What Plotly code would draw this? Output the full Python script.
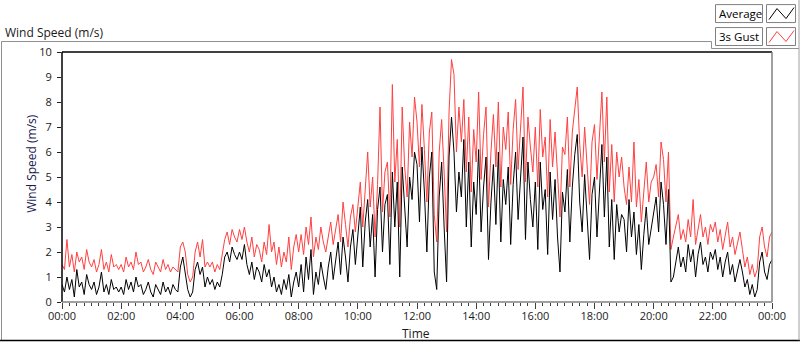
import plotly.graph_objects as go
import pandas as pd

# ---- data: 5-minute samples, 00:00 .. 24:00 (one row per hour) ----
avg_speed = [
    0.7, 0.4, 1.0, 0.5, 0.9, 0.2, 1.3, 0.6, 0.8, 0.3, 1.1, 0.7,
    0.5, 0.8, 0.3, 0.6, 1.2, 0.4, 0.7, 0.3, 0.9, 0.5, 0.6, 0.4,
    0.6, 0.3, 0.9, 0.5, 0.8, 0.4, 1.0, 0.6, 0.7, 0.3, 0.5, 0.8,
    0.4, 0.2, 0.7, 0.5, 0.3, 0.8, 0.4, 0.6, 0.3, 0.7, 0.5, 0.4,
    1.4, 1.8, 1.2, 0.5, 0.2, 0.4, 1.3, 1.6, 1.1, 1.4, 0.6, 1.0,
    0.7, 0.9, 0.5, 0.8, 0.6, 1.1, 1.8, 2.0, 1.6, 2.2, 1.9, 1.7,
    2.0, 1.7, 2.3, 1.5, 1.1, 1.6, 0.9, 1.4, 1.2, 0.8, 1.5, 1.0,
    1.3, 0.6, 1.0, 0.4, 0.7, 0.3, 0.9, 0.5, 1.1, 0.2, 0.8, 1.2,
    0.6, 1.5, 0.4, 1.8, 0.9, 2.1, 0.3, 1.2, 0.7, 1.6, 1.0, 0.5,
    1.4, 2.0, 0.9, 1.6, 2.4, 1.1, 2.6, 1.8, 0.8, 2.2, 2.9, 1.5,
    2.5, 3.8, 1.4, 3.2, 4.1, 2.2, 3.5, 1.0, 3.7, 4.6, 2.0, 3.9,
    4.3, 1.5, 5.2, 3.0, 4.8, 1.0, 5.4, 3.6, 2.2, 5.0, 4.1, 6.0,
    5.5, 3.2, 6.2, 4.4, 2.0, 5.0, 6.0, 1.2, 0.5, 4.2, 5.6, 3.0,
    0.8, 5.8, 7.4, 6.0, 3.6, 5.2, 4.2, 6.5, 3.0, 5.6, 2.2, 4.8,
    3.5, 6.1, 2.8, 4.6, 5.8, 1.7, 4.0, 5.5, 3.1, 6.0, 2.4, 4.9,
    3.9, 5.4, 2.3, 4.7, 6.0, 3.3, 5.1, 6.6, 2.5, 5.6, 4.1, 3.0,
    4.8, 2.1, 5.6, 3.7, 4.5, 1.9, 5.2, 3.3, 4.9, 2.6, 1.2, 4.4,
    3.6, 5.3, 2.4, 4.6, 5.9, 6.7, 4.0, 2.8, 5.1, 3.5, 1.7, 4.3,
    5.0, 2.6, 4.5, 6.3, 3.4, 5.8, 2.2, 4.1, 1.7, 3.9, 2.8, 3.5,
    3.3, 2.0, 4.1, 2.6, 3.6, 1.9, 3.1, 1.3, 2.7, 3.8, 2.3, 3.0,
    3.5, 4.2, 2.8, 4.8, 3.9, 2.3, 4.5, 0.8, 1.0, 1.6, 2.2, 1.4,
    1.8, 1.2, 2.3, 1.6, 2.1, 1.0, 1.9, 2.4, 1.5, 1.8, 1.2, 2.0,
    1.7, 2.1, 1.3, 1.8, 1.0, 1.6, 2.0, 1.1, 1.5, 0.8, 1.3, 1.7,
    1.2, 0.6, 0.9, 0.3, 0.7, 0.2, 0.5, 1.6, 2.0, 1.2, 0.9, 1.5,
    1.7,
]

gust_speed = [
    1.5, 1.3, 2.5, 1.4, 1.9, 1.2, 2.0, 1.6, 1.8, 1.3, 2.1, 1.6,
    1.4, 1.7, 1.2, 1.5, 2.1, 1.3, 1.6, 1.2, 1.9, 1.4, 1.5, 1.3,
    1.5, 1.2, 1.8, 1.4, 1.6, 1.3, 2.0, 1.5, 1.6, 1.2, 1.4, 1.7,
    1.3, 1.1, 1.6, 1.4, 1.2, 1.7, 1.3, 1.5, 1.2, 1.4, 1.3, 1.2,
    2.2, 2.4, 2.0, 1.1, 0.8, 1.0, 2.0, 2.4, 1.8, 2.5, 1.4, 1.6,
    1.4, 1.6, 1.2, 1.5, 1.3, 1.9, 2.5, 2.8, 2.3, 2.9, 2.6, 2.4,
    2.9, 2.5, 3.0, 2.4, 2.0, 2.6, 1.8, 2.3, 2.1, 1.6, 2.4, 1.9,
    3.1, 2.0, 2.4, 1.5, 2.2, 1.4, 2.0, 1.6, 2.6, 1.3, 2.2, 2.7,
    2.0, 2.7, 1.9, 3.0, 2.3, 3.4, 1.8, 2.6, 2.1, 3.0, 2.4, 2.0,
    2.6, 3.2, 2.3, 2.9, 3.5, 2.4, 4.0, 3.1, 2.2, 3.4, 3.9, 2.8,
    3.8, 4.8, 3.0, 4.6, 6.0, 3.8, 5.0, 2.6, 4.7, 7.8, 3.6, 5.2,
    5.6, 3.4, 8.7, 4.8, 6.5, 3.0, 7.8, 5.4, 4.2, 7.2, 5.8, 8.2,
    7.2, 5.4, 7.9, 6.1, 4.0, 6.8, 7.6, 3.5, 2.4, 6.0, 7.3, 5.2,
    2.8, 7.6, 9.7, 9.1, 6.0, 7.8, 6.4, 8.1, 5.2, 7.4, 4.4, 6.9,
    5.6, 8.4, 4.9, 6.7, 7.8, 3.8, 6.0, 7.5, 5.4, 8.0, 4.6, 7.0,
    6.1, 7.6, 4.7, 6.9, 8.1, 5.3, 7.2, 8.6, 4.8, 7.4, 6.2, 5.2,
    7.0, 4.6, 7.7, 5.8, 6.6, 4.2, 7.3, 5.4, 6.8, 4.8, 3.4, 6.2,
    5.9, 7.4, 4.6, 6.8, 7.8, 8.6, 6.3, 5.0, 7.0, 5.6, 3.9, 6.4,
    7.1, 4.9, 6.8, 8.4, 5.6, 8.2, 4.4, 6.3, 4.0, 6.0, 5.0, 5.8,
    4.6, 3.9, 5.4, 4.0, 6.4, 3.8, 4.9, 3.2, 4.4, 5.6, 4.0, 4.8,
    5.0, 5.5, 4.2, 6.4, 5.7, 4.0, 6.0, 2.1, 2.6, 3.0, 3.5, 2.5,
    2.9, 2.4, 3.3, 2.6, 4.1, 2.3, 3.0, 3.5, 2.6, 3.0, 2.3, 3.1,
    2.8, 3.2, 2.4, 2.9, 2.1, 2.7, 3.2, 2.2, 2.6, 1.9, 2.4, 2.8,
    2.1, 1.4, 1.8, 1.1, 1.5, 1.0, 1.3, 2.6, 3.0, 2.2, 1.8, 2.6,
    2.8,
]

series_names = ["Average", "3s Gust"]
y_ticks = list(range(0, 11))
start_time = "2000-01-01 00:00"
end_time = "2000-01-02 00:00"

times = pd.date_range(start_time, periods=len(avg_speed), freq="5min")

# ---- geometry helpers (pixel -> paper) ----
W, H = 800, 342
L, R, T, B = 62, 772, 52, 302.5


def px(x):
    return (x - L) / (R - L)


def py(y):
    return (B - y) / (B - T)


FONT = "Open Sans"
TXT = "#1a1a1a"

fig = go.Figure()
fig.add_trace(go.Scatter(x=times, y=gust_speed, mode="lines", name=series_names[1],
                         line=dict(color="#ff4040", width=1)))
fig.add_trace(go.Scatter(x=times, y=avg_speed, mode="lines", name=series_names[0],
                         line=dict(color="#000000", width=1)))

shapes = []
# plot frame
shapes.append(dict(type="line", xref="paper", yref="paper", x0=0, x1=1, y0=1, y1=1,
                   line=dict(color="#000000", width=1.5)))
shapes.append(dict(type="line", xref="paper", yref="paper", x0=0, x1=0, y0=0, y1=1,
                   line=dict(color="#000000", width=1.5)))
shapes.append(dict(type="line", xref="paper", yref="paper", x0=0, x1=1, y0=0, y1=0,
                   line=dict(color="#808080", width=1.5)))
shapes.append(dict(type="line", xref="paper", yref="paper", x0=1, x1=1, y0=0, y1=1,
                   line=dict(color="#808080", width=1.5)))
# outer frame
shapes.append(dict(type="path", xref="paper", yref="paper",
                   path=f"M {px(1.5)} {py(341)} L {px(1.5)} {py(41.5)} L {px(711.5)} {py(41.5)} "
                        f"L {px(711.5)} {py(48.5)} L {px(799)} {py(48.5)}",
                   line=dict(color="#909090", width=1)))
shapes.append(dict(type="line", xref="paper", yref="paper", x0=px(0), x1=px(800),
                   y0=py(341), y1=py(341), line=dict(color="#000000", width=1.5)))
shapes.append(dict(type="line", xref="paper", yref="paper", x0=px(799), x1=px(799),
                   y0=py(0), y1=py(341), line=dict(color="#a0a0a0", width=1)))

annotations = []
# legend boxes
legend_rows = [(series_names[0], "#000000", 4.5), (series_names[1], "#ff4040", 27.5)]
for name, col, y0 in legend_rows:
    y1 = y0 + 18
    shapes.append(dict(type="rect", xref="paper", yref="paper",
                       x0=px(715.5), x1=px(762.5), y0=py(y1), y1=py(y0),
                       line=dict(color="#808080", width=1), fillcolor="white"))
    shapes.append(dict(type="rect", xref="paper", yref="paper",
                       x0=px(766.5), x1=px(795.5), y0=py(y1), y1=py(y0),
                       line=dict(color="#808080", width=1), fillcolor="white"))
    pts = [(769, y0 + 15), (777, y0 + 4), (786, y0 + 14), (794, y0 + 3)]
    path = "M " + " L ".join(f"{px(a)} {py(b)}" for a, b in pts)
    shapes.append(dict(type="path", xref="paper", yref="paper", path=path,
                       line=dict(color=col, width=1)))
    annotations.append(dict(text=name, xref="paper", yref="paper", x=px(717), y=py(y0 + 9),
                            xanchor="left", yanchor="middle", showarrow=False,
                            font=dict(family=FONT, size=11.5, color="#000000")))

annotations.append(dict(text="Wind Speed (m/s)", xref="paper", yref="paper", x=px(3), y=py(32),
                        xanchor="left", yanchor="middle", showarrow=False,
                        font=dict(family=FONT, size=12, color=TXT)))
annotations.append(dict(text="Wind Speed (m/s)", xref="paper", yref="paper", x=px(32), y=py(164),
                        xanchor="center", yanchor="middle", showarrow=False, textangle=-90,
                        font=dict(family=FONT, size=12, color="#1a1a50")))
annotations.append(dict(text="Time", xref="paper", yref="paper", x=px(416), y=py(334),
                        xanchor="center", yanchor="middle", showarrow=False,
                        font=dict(family=FONT, size=12, color=TXT)))

fig.update_layout(
    width=W, height=H,
    margin=dict(l=L, r=W - R, t=T, b=H - B),
    paper_bgcolor="white", plot_bgcolor="white",
    showlegend=False,
    font=dict(family=FONT, size=12, color=TXT),
    shapes=shapes, annotations=annotations,
    xaxis=dict(
        range=[start_time, end_time], type="date",
        tickformat="%H:%M", dtick=2 * 3600 * 1000, tick0=start_time,
        showgrid=False, zeroline=False, showline=False,
        ticks="outside", ticklen=6, tickwidth=1, tickcolor="#404040",
        minor=dict(dtick=15 * 60 * 1000, tick0=start_time, ticks="outside",
                   ticklen=3, tickcolor="#404040", showgrid=False),
        ticklabelstandoff=-2,
        tickfont=dict(family=FONT, size=11, color=TXT),
        automargin=False,
    ),
    yaxis=dict(
        range=[0, 10], tickvals=y_ticks,
        showgrid=False, zeroline=False, showline=False,
        ticks="outside", ticklen=4, tickwidth=1, tickcolor="#202020",
        ticklabelstandoff=3,
        tickfont=dict(family=FONT, size=11, color=TXT),
        automargin=False,
    ),
)

fig.write_html("out.html", config={"displayModeBar": False},
               post_script="document.body.style.margin='0';document.body.style.padding='0';")
